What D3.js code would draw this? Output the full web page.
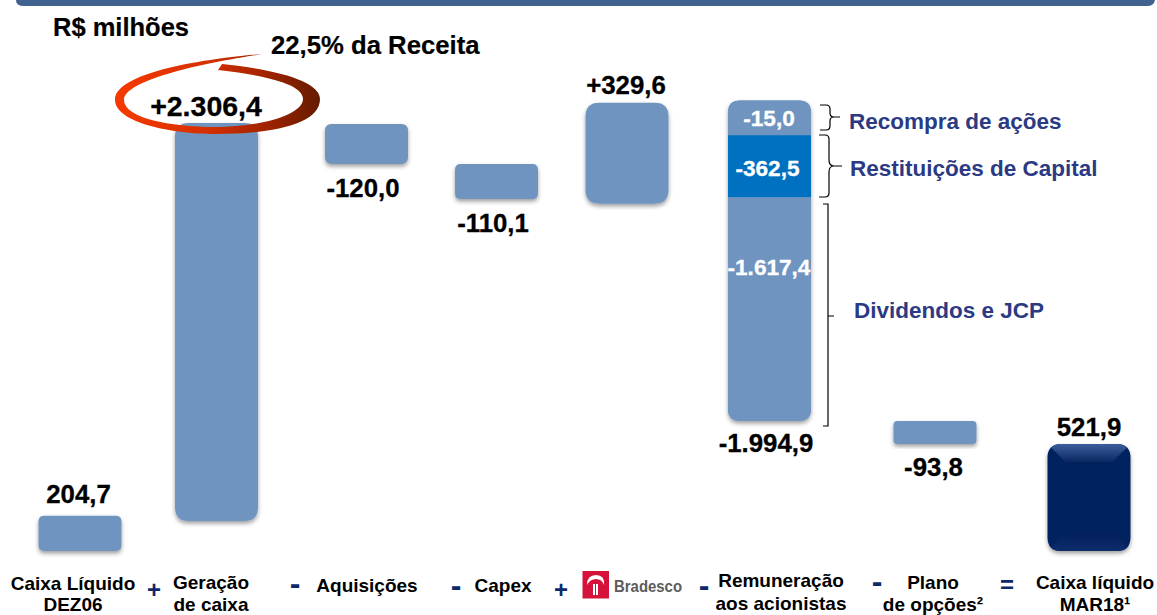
<!DOCTYPE html>
<html><head><meta charset="utf-8">
<script src="https://cdn.jsdelivr.net/npm/d3@7/dist/d3.min.js"></script>
<style>html,body{margin:0;background:#fff}svg{display:block}text{font-family:"Liberation Sans",Arial,sans-serif;font-weight:bold}</style>
</head><body><svg id="c" width="1157" height="615"></svg>
<script>
// Data: extents of each bar as drawn in the picture (R$ millions on the picture's scale)
const categories = ["dez06","geracao","aquisicoes","capex","bradesco","recompra","restituicoes","dividendos","plano","mar18"];
const barLow  = [0, 174, 2243, 2040, 2013, 2409, 2050, 754, 620, 0];
const barHigh = [204.7, 2480.4, 2475, 2243, 2598, 2610, 2409, 2050, 754, 620];
const valueLabels = ["204,7","+2.306,4","-120,0","-110,1","+329,6","-15,0","-362,5","-1.617,4","-93,8","521,9"];
const axisLabels = [["Caixa Líquido","DEZ06"],["Geração","de caixa"],["Aquisições"],["Capex"],[],["Remuneração","aos acionistas"],["Plano","de opções²"],["Caixa líquido","MAR18¹"]];
const operators = ["+","-","-","+","-","-","="];
const stackTotal = "-1.994,9";
const stackNames = ["Recompra de ações","Restituições de Capital","Dividendos e JCP"];

const svg = d3.select("#c");
const y = d3.scaleLinear().domain([0,2306.4]).range([551,153]);
const x = d3.scaleOrdinal(categories,[80,216.5,366.5,496.5,627,769.5,769.5,769.5,935,1089]);
const W = 83;
const defs = svg.append("defs");
const sh = defs.append("filter").attr("id","sh").attr("x","-20%").attr("y","-20%").attr("width","140%").attr("height","140%");
sh.append("feDropShadow").attr("dx",0).attr("dy",2.5).attr("stdDeviation",2).attr("flood-color","#000").attr("flood-opacity",.38);
const g1 = defs.append("linearGradient").attr("id","sw").attr("gradientUnits","userSpaceOnUse").attr("x1",115).attr("x2",320).attr("y1",0).attr("y2",0);
[[0,"#f63a00"],[.45,"#d63000"],[.7,"#a82500"],[1,"#641a00"]].forEach(d=>g1.append("stop").attr("offset",d[0]).attr("stop-color",d[1]));
const g2 = defs.append("linearGradient").attr("id","bev").attr("x1",0).attr("x2",0).attr("y1",0).attr("y2",1);
[[0,"#3c5f9c"],[1,"#0a2761"]].forEach(d=>g2.append("stop").attr("offset",d[0]).attr("stop-color",d[1]));
const g3 = defs.append("linearGradient").attr("id","bev2").attr("x1",0).attr("x2",0).attr("y1",0).attr("y2",1);
[[0,"#04205c"],[1,"#0d2c6c"]].forEach(d=>g3.append("stop").attr("offset",d[0]).attr("stop-color",d[1]));

// header band
svg.append("path").attr("d","M16,0 H1155 Q1154,6 1147,6 H24 Q16,6 16,0Z").attr("fill","#41628e");

function rr(x0,y0,w,h,rt,rb){
  return `M${x0+rt},${y0}H${x0+w-rt}Q${x0+w},${y0} ${x0+w},${y0+rt}V${y0+h-rb}Q${x0+w},${y0+h} ${x0+w-rb},${y0+h}H${x0+rb}Q${x0},${y0+h} ${x0},${y0+h-rb}V${y0+rt}Q${x0},${y0} ${x0+rt},${y0}Z`;
}
const rows = categories.map((c,i)=>({c,i,top:y(barHigh[i]),bot:y(barLow[i])}));
const st = rows.filter(r=>["recompra","restituicoes","dividendos"].includes(r.c));
svg.append("path").attr("d",rr(x("recompra")-W/2,st[0].top,W,st[2].bot-st[0].top,12,12)).attr("fill","#6e94bf").attr("filter","url(#sh)");
svg.selectAll("path.bar").data(rows).join("path").attr("class","bar")
 .attr("d",r=>{
   const h=r.bot-r.top;
   if(r.c==="recompra") return rr(x(r.c)-W/2,r.top,W,h,12,0);
   if(r.c==="restituicoes") return rr(x(r.c)-W/2,r.top,W,h,0,0);
   if(r.c==="dividendos") return rr(x(r.c)-W/2,r.top,W,h,0,12);
   const R=Math.min(W,h)/6; return rr(x(r.c)-W/2,r.top,W,h,R,R);
 })
 .attr("fill",r=>r.c==="restituicoes"?"#0070c0":r.c==="mar18"?"#06225f":"#6e94bf")
 .attr("filter",r=>["recompra","restituicoes","dividendos"].includes(r.c)?null:"url(#sh)");
// bevel on the final bar
const n = rows[9], nx=x(n.c)-W/2, nr=14;
defs.append("clipPath").attr("id","nc").append("path").attr("d",rr(nx,n.top,W,n.bot-n.top,nr,nr));
const bg = svg.append("g").attr("clip-path","url(#nc)");
bg.append("path").attr("d",`M${nx},${n.top}H${nx+W}L${nx+W-18},${n.top+18}H${nx+18}Z`).attr("fill","url(#bev)");
bg.append("path").attr("d",`M${nx},${n.bot}H${nx+W}L${nx+W-18},${n.bot-18}H${nx+18}Z`).attr("fill","url(#bev2)");

// swoosh
svg.append("path").attr("fill","url(#sw)").attr("d","M263,54 C190,60 115,75 115,100 C115,122 170,134 215,134 C270,134 320,125 320,99 C320,82 280,70 222,64 L218,70 C270,76 303,85 303,99 C303,115 260,127 215,127 C170,127 124,118 124,100 C124,82 190,65 263,54Z");

// value labels
const labelY=[503,116,197,232,94,126,176,275,476,436];
const labelX=[78.5,206,363,493,626,769,767.5,769,933.5,1089];
const labelFill=i=>(i>=5&&i<=7)?"#fff":"#000";
const labelSize=i=>i===1?28.5:(i>=5&&i<=7)?22.6:25.8;
svg.selectAll("text.v").data(valueLabels).join("text").attr("class","v")
 .attr("x",(d,i)=>labelX[i]).attr("y",(d,i)=>labelY[i])
 .attr("text-anchor","middle").attr("font-size",(d,i)=>labelSize(i)).attr("fill",(d,i)=>labelFill(i))
 .attr("stroke",(d,i)=>labelFill(i)).attr("stroke-width",.3).text(d=>d);
svg.append("text").attr("x",766).attr("y",452).attr("text-anchor","middle").attr("font-size",25.8).attr("stroke","#000").attr("stroke-width",.3).text(stackTotal);
svg.append("text").attr("x",53).attr("y",35.5).attr("font-size",25.5).attr("stroke","#000").attr("stroke-width",.2).text("R$ milhões");
svg.append("text").attr("x",271).attr("y",54).attr("font-size",25.7).attr("stroke","#000").attr("stroke-width",.2).text("22,5% da Receita");

// stack brackets and names
const brackets=["M820,105H826Q830,105 830,109V113Q830,117 834,117H840M834,117Q830,117 830,121V126Q830,130 826,130H820",
 "M819,135H825Q829,135 829,139V160Q829,166 834,166H842M834,166Q829,166 829,172V193Q829,197 825,197H819",
 "M823,204H828V426H823M828,316H834"];
svg.selectAll("path.br").data(brackets).join("path").attr("class","br").attr("d",d=>d).attr("fill","none").attr("stroke","#000").attr("stroke-width",1.2);
const nameX=[849,850,854], nameY=[129,176,318];
svg.selectAll("text.n").data(stackNames).join("text").attr("class","n").attr("x",(d,i)=>nameX[i]).attr("y",(d,i)=>nameY[i]).attr("font-size",22.5).attr("fill","#2b3a82").text(d=>d);

// bottom labels
const axisX=[73,211,367,503,0,781,933,1095], axisY=[590,589,592,592,0,587,589,589];
axisLabels.forEach((ls,i)=>ls.forEach((t,j)=>{
  svg.append("text").attr("x",axisX[i]).attr("y",axisY[i]+j*(i===5?23:22)-(i===0&&j===1?1:0)).attr("text-anchor","middle").attr("font-size",19).attr("fill","#000").text(t);
}));
const opX=[154,295,456,561,704,877,1007], opY=[598,594,596,598,596,592,593];
svg.selectAll("text.o").data(operators).join("text").attr("class","o").attr("x",(d,i)=>opX[i]).attr("y",(d,i)=>opY[i]).attr("text-anchor","middle").attr("font-size",d=>d==="-"?32:24).attr("fill","#0c2a6a").text(d=>d);

// Bradesco mark
svg.append("rect").attr("x",582.5).attr("y",571).attr("width",26.5).attr("height",27.5).attr("fill","#d5123a");
svg.append("path").attr("d","M587,585 Q587,575 596,575 Q605,575 604,585 Q602,579 596,579 Q590,579 587,585Z").attr("fill","#fff");
svg.append("rect").attr("x",593).attr("y",584).attr("width",2).attr("height",11).attr("fill","#fff");
svg.append("rect").attr("x",596).attr("y",584).attr("width",2).attr("height",11).attr("fill","#fff");
svg.append("text").attr("x",614).attr("y",592).attr("font-size",17).attr("fill","#5c5c5c").attr("textLength",68).attr("lengthAdjust","spacingAndGlyphs").text("Bradesco");
</script></body></html>
